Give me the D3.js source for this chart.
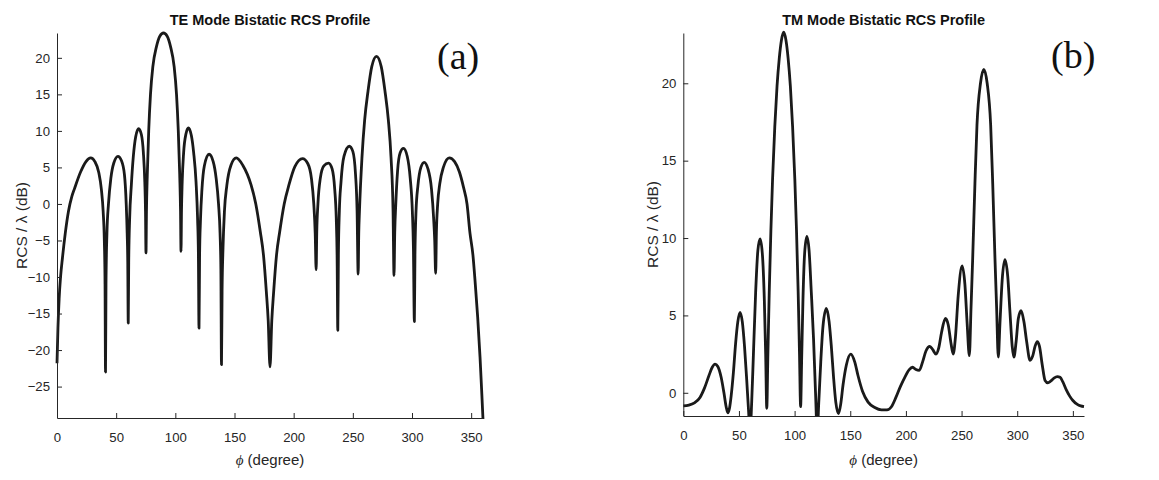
<!DOCTYPE html>
<html>
<head>
<meta charset="utf-8">
<script src="https://cdn.jsdelivr.net/npm/d3@7"></script>
<style>
  html, body { margin: 0; padding: 0; background: #fff; }
  svg { display: block; }
  .tick text { font-family: "Liberation Sans", Arial, sans-serif; font-size: 13.2px; fill: #262626; }
</style>
</head>
<body>
<svg id="chart" width="1159" height="480"></svg>
<script>
// ---- Data ----
const teAngle = [0,0.8,1.8,3,4.6,7,9.7,12.5,14.8,20,24.5,28.5,32,35.3,37.5,39,40,40.6,41,
  41.4,42.2,43.5,45.5,48,51.5,54.5,57,58.5,59.3,59.8,60.2,
  60.6,61.4,62.8,64.5,66.5,69,71.3,73,74.2,74.8,75.2,
  75.6,76.3,77.5,79,81,84,87,90,93,96,99,101,102.5,103.7,104.4,104.8,
  105.2,105.8,107,109,111,113.5,115.5,117.5,118.8,119.5,120,
  120.5,121.3,122.5,124.5,128.5,132,134.5,136.5,137.8,138.5,139,
  139.5,140.3,141.5,143.5,147,151.5,157,164,168,171.8,174.5,176.9,178.5,180,
  181.5,183.1,185.5,188.2,192,196,201,207.5,212,215,217,218.2,219,
  219.5,220.5,222.5,225.5,229.5,232.5,234.7,236,236.7,237.3,
  237.8,238.6,240,242.5,247,250,252.3,253.6,254.5,
  255,255.6,257.7,260,262.8,266,270,274,277.2,280,282.3,284,284.8,
  285.4,286.3,287.8,290,292.8,296,298.5,300.3,301.2,302,
  302.5,303.4,305,307.5,310.3,313.5,316.5,318.3,319.2,320,
  320.6,321.7,323.5,326.5,331.5,336,340,343.5,346.5,349,351.5,353.5,355.5,357.5,359,360];
const teRcs = [-21.8,-17,-13,-10,-7.4,-4,-1,1,2.1,4.4,5.8,6.3,5.8,4.3,2,-1,-5,-11,-23,
  -11,-4,0,3.5,5.6,6.5,5.9,4,0,-4,-8,-16.3,
  -8,-2,2.5,6.5,9.2,10.3,9.5,7,3,-1,-6.7,
  -1,4,10,15,18.8,21.5,23,23.4,23,21.5,18.8,15,10,4,-1,-6.5,
  -1,3,7,9.6,10.4,9.4,7,3,-2,-7,-17,
  -7,-2,2,5.2,6.8,5.8,3.5,0,-4,-9,-22,
  -12,-6,-1,2.5,5.3,6.3,5.3,2.6,0,-3.8,-7,-12,-16,-22.3,
  -16,-12,-7,-3.8,0,2.6,5.1,6.2,5.5,3.5,0,-4,-9,
  -4,0,3.5,5.2,5.6,4.8,2,-2,-7,-17.3,
  -7,-1,3,6.5,7.9,7.2,4,-1,-9.6,
  -4,-1,6.3,11.5,15.4,18.8,20.2,18.8,15.4,11.5,6.3,-1,-9.8,
  -4,0,4.5,7,7.6,6.5,3.5,-1,-6,-16.1,
  -7,-1,2.5,5,5.7,4.8,2,-2,-5,-9.5,
  -4,0,2.8,5,6.3,5.8,4.4,2.3,0,-4,-7,-11,-15.5,-21,-26,-29.5];

const tmAngle = [0,5,10,15,19,23,26,28.5,31,34,36.5,38.5,40,41.5,43,45,47,49,51,53,55,57,58.5,60,
  61.5,63,65,67,69,71,72.8,74,75,76,77.2,78.7,80.2,82.2,84.2,86.2,88.2,90.2,92.2,94.2,96.2,98.2,
  100.2,101.7,103.2,104.4,105.4,106.3,107.5,109,111,113,115,117,118.8,120.3,121.8,123.5,125.5,
  128.5,131,133,135,137,139.5,141.5,143.5,146.5,150.5,154,157,161,166,172,178,183,187,191,195,
  199,203,206,209,212,215,218,221.5,224,227,229.5,232,235.5,238,240.5,242.5,244.5,247,250.5,
  253,255,257,258.5,260,262,263.85,267,270,273,276.15,278,280,281.5,283,284.5,286.5,289,291.5,
  293.5,295.5,297,299,301,303.5,306,308.5,311.5,314,316,318,320,322.5,325,327.5,330,333,336,
  338.5,341,344,347,350,354,357,360];
const tmRcs = [-0.85,-0.8,-0.65,-0.3,0.3,1.1,1.65,1.85,1.7,1.0,0,-0.9,-1.3,-1.0,-0.2,1.3,3.2,4.6,5.2,4.6,3.0,0.8,-1.0,-2.5,
  -0.5,2.5,6.5,9.2,9.95,9.0,6.0,2.5,-1.0,2.5,6.5,10.5,13.8,17.2,19.8,21.6,22.8,23.3,22.8,21.6,19.8,17.2,
  13.8,10.5,6.5,2.5,-0.9,2,6,9,10.1,9.2,6.5,3.5,0,-2.5,-0.5,2,4.3,
  5.45,4.6,3.0,1.0,-0.6,-1.35,-0.7,0.5,1.8,2.5,2.0,1.1,0.1,-0.6,-0.95,-1.1,-1.1,-0.9,-0.3,0.4,
  1.0,1.5,1.65,1.5,1.45,2.0,2.7,3.0,2.8,2.5,2.9,3.9,4.8,4.4,3.2,2.5,3.6,6.3,8.2,
  7.0,4.5,2.4,5.5,8.7,13.5,17.3,20.0,20.9,20.0,17.3,13.5,8.7,5.5,2.3,4.5,7.3,8.6,7.5,
  5.2,3.0,2.3,3.3,4.8,5.3,4.6,3.3,2.1,2.4,3.0,3.3,3.0,1.8,0.8,0.65,0.75,0.95,1.05,
  1.0,0.7,0.2,-0.2,-0.5,-0.75,-0.85,-0.9];

const xTicks = [0,50,100,150,200,250,300,350];
const teYTicks = [-25,-20,-15,-10,-5,0,5,10,15,20];
const tmYTicks = [0,5,10,15,20];

const panels = [
  { id: "te", title: "TE Mode Bistatic RCS Profile", tag: "(a)", angle: teAngle, rcs: teRcs,
    yDomain: [-29.3, 23.4], yTicks: teYTicks, left: 57, right: 483, top: 33, bottom: 418,
    ylabelX: 27, tagX: 437, tagY: 69 },
  { id: "tm", title: "TM Mode Bistatic RCS Profile", tag: "(b)", angle: tmAngle, rcs: tmRcs,
    yDomain: [-1.5, 23.25], yTicks: tmYTicks, left: 683.3, right: 1084, top: 33, bottom: 416,
    ylabelX: 658, tagX: 1051, tagY: 68 }
];

const svg = d3.select("#chart");
const axisColor = "#262626";

panels.forEach(p => {
  const x = d3.scaleLinear().domain([0, 360]).range([p.left, p.right]);
  const y = d3.scaleLinear().domain(p.yDomain).range([p.bottom, p.top]);
  const g = svg.append("g");

  g.append("clipPath").attr("id", "clip-" + p.id)
    .append("rect").attr("x", p.left - 2).attr("y", p.top - 3)
    .attr("width", p.right - p.left + 4).attr("height", p.bottom - p.top + 4);

  const pts = p.angle.map((a, i) => [a, p.rcs[i]]);
  const line = d3.line().x(d => x(d[0])).y(d => y(d[1])).curve(d3.curveMonotoneX);
  g.append("path").datum(pts)
    .attr("clip-path", "url(#clip-" + p.id + ")")
    .attr("d", line)
    .attr("fill", "none")
    .attr("stroke", "#1a1a1a")
    .attr("stroke-width", 2.8)
    .attr("stroke-linejoin", "round");

  const xAxis = g.append("g").attr("transform", `translate(0,${p.bottom})`)
    .call(d3.axisBottom(x).tickValues(xTicks).tickSizeInner(-5).tickSizeOuter(0).tickPadding(14.5));
  const yAxis = g.append("g").attr("transform", `translate(${p.left},0)`)
    .call(d3.axisLeft(y).tickValues(p.yTicks).tickSizeInner(-5).tickSizeOuter(0).tickPadding(7));
  [xAxis, yAxis].forEach(ax => {
    ax.select(".domain").attr("stroke", axisColor).attr("stroke-width", 1);
    ax.selectAll(".tick line").attr("stroke", axisColor).attr("stroke-width", 1);
  });

  g.append("text")
    .attr("x", (p.left + p.right) / 2).attr("y", 25)
    .attr("text-anchor", "middle")
    .attr("font-family", "Liberation Sans, Arial, sans-serif")
    .attr("font-weight", "bold").attr("font-size", 14.5)
    .attr("fill", "#111")
    .text(p.title);

  const xl = g.append("text")
    .attr("x", (p.left + p.right) / 2).attr("y", 465)
    .attr("text-anchor", "middle")
    .attr("font-family", "Liberation Sans, Arial, sans-serif")
    .attr("font-size", 15).attr("fill", axisColor);
  xl.append("tspan").attr("font-family", "Liberation Serif, Times New Roman, serif").attr("font-style", "italic").text("\u03D5");
  xl.append("tspan").text(" (degree)");

  g.append("text")
    .attr("transform", `translate(${p.ylabelX},${(p.top + p.bottom) / 2}) rotate(-90)`)
    .attr("text-anchor", "middle")
    .attr("font-family", "Liberation Sans, Arial, sans-serif")
    .attr("font-size", 15.5).attr("fill", axisColor)
    .text("RCS / \u03BB (dB)");

  g.append("text")
    .attr("x", p.tagX).attr("y", p.tagY)
    .attr("font-family", "Liberation Serif, Times New Roman, serif")
    .attr("font-size", 38).attr("fill", "#111")
    .text(p.tag);
});
</script>
</body>
</html>
